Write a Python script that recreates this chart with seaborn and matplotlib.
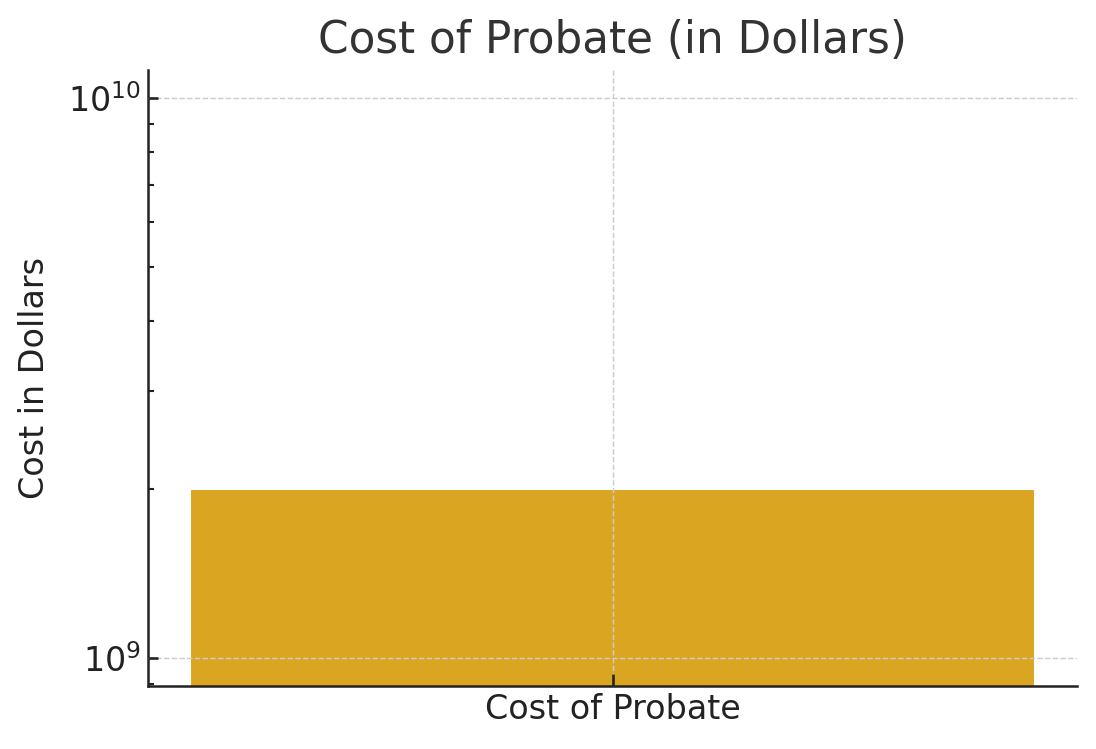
import matplotlib
matplotlib.use("Agg")
import matplotlib.pyplot as plt
import seaborn as sns
import pandas as pd

categories = ["Cost of Probate"]
values = [2.0e9]

sns.set_theme(style="ticks")
plt.rcParams['font.family'] = ['DejaVu Sans']

df = pd.DataFrame({"cat": categories, "val": values})

fig, ax = plt.subplots(figsize=(1096/150, 749/150), dpi=150)
fig.subplots_adjust(left=148/1096, right=1077/1096, top=1-70/749, bottom=1-686/749)

sns.barplot(data=df, x="cat", y="val", color="#DAA520", saturation=1, width=0.8, ax=ax, log_scale=(False, True))
ax.set_yscale("log")
ax.set_ylim(10**8.95, 10**10.05)
ax.set_xlim(-0.44, 0.44)

ax.set_title("Cost of Probate (in Dollars)", fontsize=21, color="#333333", pad=8)
ax.set_ylabel("Cost in Dollars", fontsize=16, color="#222222", labelpad=8)
ax.set_xlabel("")
ax.tick_params(axis="both", which="both", direction="in", labelsize=16, colors="#222222")
ax.tick_params(axis="y", which="major", length=5)
ax.tick_params(axis="y", which="minor", length=3)
ax.grid(True, which="major", linestyle="--", color="#cccccc", linewidth=0.7)
ax.set_axisbelow(False)
for s in ["top", "right"]:
    ax.spines[s].set_visible(False)
for s in ["left", "bottom"]:
    ax.spines[s].set_linewidth(1.2)
    ax.spines[s].set_color("#222222")

fig.savefig("out.png", dpi=150)
